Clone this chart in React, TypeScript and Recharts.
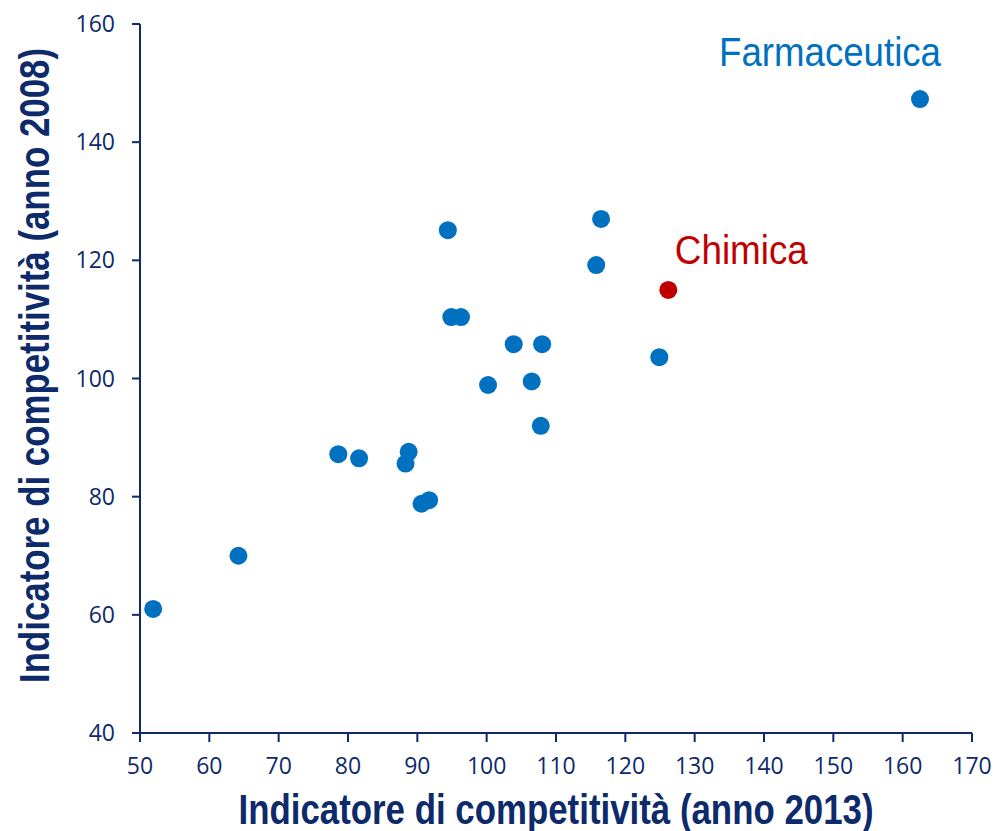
import React from 'react';
import { ScatterChart, Scatter, XAxis, YAxis, LabelList, Label } from 'recharts';

const names = [
  'Farmaceutica', 's2', 's3', 's4', 's5', 's6', 's7', 's8', 's9', 's10',
  's11', 's12', 's13', 's14', 's15', 's16', 's17', 's18', 's19', 's20',
];
const idx2013 = [
  162.5, 116.5, 94.4, 115.8, 94.9, 96.3, 103.9, 108.0, 124.9, 106.5,
  100.2, 107.8, 78.6, 81.6, 88.75, 88.3, 90.6, 91.7, 64.2, 51.9,
];
const idx2008 = [
  147.3, 127.0, 125.1, 119.2, 110.4, 110.4, 105.8, 105.8, 103.6, 99.5,
  98.9, 92.0, 87.2, 86.5, 87.6, 85.6, 78.8, 79.4, 70.0, 61.0,
];
const chimicaName = ['Chimica'];
const chimica2013 = [126.2];
const chimica2008 = [115.0];

const xTicks = [50, 60, 70, 80, 90, 100, 110, 120, 130, 140, 150, 160, 170];
const yTicks = [40, 60, 80, 100, 120, 140, 160];

const xTitle = 'Indicatore di competitività (anno 2013)';
const yTitle = 'Indicatore di competitività (anno 2008)';

const blueData = names.map((n, i) => ({ name: n, x: idx2013[i], y: idx2008[i] }));
const redData = chimicaName.map((n, i) => ({ name: n, x: chimica2013[i], y: chimica2008[i] }));

const BLUE = '#0070C0';
const RED = '#C00000';
const NAVY = '#0D2A6B';
const TITLE_FONT = '"Liberation Sans", Arial, sans-serif';
const TICK_FONT = '"Open Sans", sans-serif';

const labelStyle: Record<string, { dx: number; dy: number; color: string; len: number }> = {
  Farmaceutica: { dx: -90, dy: -33, color: BLUE, len: 222 },
  Chimica: { dx: 73, dy: -26, color: RED, len: 133 },
};

const Dot = (props: any) => {
  const { cx, cy, fill } = props;
  return <circle cx={cx} cy={cy} r={9} fill={fill} />;
};

const PointLabel = (props: any) => {
  const { x, y, width, height, value } = props;
  const s = labelStyle[value];
  if (!s) return null;
  const cx = x + (width || 0) / 2;
  const cy = y + (height || 0) / 2;
  return (
    <text
      x={cx + s.dx}
      y={cy + s.dy}
      textAnchor="middle"
      fill={s.color}
      fontFamily={TITLE_FONT}
      fontSize={40}
      textLength={s.len}
      lengthAdjust="spacingAndGlyphs"
    >
      {value}
    </text>
  );
};

const XTitle = (props: any) => {
  const vb = props.viewBox || {};
  return (
    <text
      x={vb.x + vb.width / 2}
      y={vb.y + vb.height - 7}
      textAnchor="middle"
      fill={NAVY}
      fontFamily={TITLE_FONT}
      fontWeight="bold"
      fontSize={42}
      textLength={635}
      lengthAdjust="spacingAndGlyphs"
    >
      {xTitle}
    </text>
  );
};

const YTitle = (props: any) => {
  const vb = props.viewBox || {};
  const tx = vb.x + 49;
  const ty = vb.y + vb.height / 2 - 13;
  return (
    <text
      x={tx}
      y={ty}
      transform={`rotate(-90, ${tx}, ${ty})`}
      textAnchor="middle"
      fill={NAVY}
      fontFamily={TITLE_FONT}
      fontWeight="bold"
      fontSize={43}
      textLength={635}
      lengthAdjust="spacingAndGlyphs"
    >
      {yTitle}
    </text>
  );
};

export default function App() {
  return (
    <div style={{ position: 'absolute', left: 0, top: 0, width: 996, height: 831, background: '#fff' }}>
      <ScatterChart width={996} height={831} margin={{ top: 24, right: 24, bottom: 0, left: 0 }}>
        <XAxis
          type="number"
          dataKey="x"
          domain={[50, 170]}
          ticks={xTicks}
          interval={0}
          height={98}
          stroke={NAVY}
          strokeWidth={2}
          tickSize={9}
          tickMargin={16}
          tick={{ fill: NAVY, fontFamily: TICK_FONT, fontSize: 23 }}
          allowDataOverflow
        >
          <Label content={<XTitle />} />
        </XAxis>
        <YAxis
          type="number"
          dataKey="y"
          domain={[40, 160]}
          ticks={yTicks}
          interval={0}
          width={140}
          stroke={NAVY}
          strokeWidth={2}
          tickSize={8}
          tickMargin={17}
          tick={{ fill: NAVY, fontFamily: TICK_FONT, fontSize: 23 }}
          allowDataOverflow
        >
          <Label content={<YTitle />} />
        </YAxis>
        <Scatter data={blueData} fill={BLUE} shape={<Dot />} isAnimationActive={false}>
          <LabelList dataKey="name" content={<PointLabel />} />
        </Scatter>
        <Scatter data={redData} fill={RED} shape={<Dot />} isAnimationActive={false}>
          <LabelList dataKey="name" content={<PointLabel />} />
        </Scatter>
      </ScatterChart>
    </div>
  );
}
